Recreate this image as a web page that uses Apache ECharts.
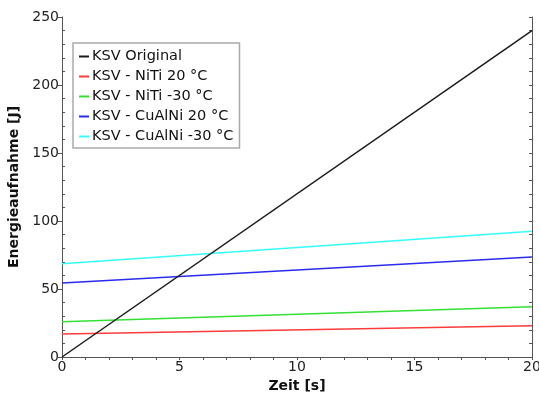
<!DOCTYPE html>
<html><head><meta charset="utf-8">
<script src="https://cdn.jsdelivr.net/npm/echarts@6/dist/echarts.min.js"></script>
<style>html,body{margin:0;padding:0;background:#fff}#c{width:539px;height:397px}</style>
</head><body><div id="c"></div>
<script>
var seriesNames = ['KSV Original','KSV - NiTi 20 °C','KSV - NiTi -30 °C','KSV - CuAlNi 20 °C','KSV - CuAlNi -30 °C'];
var timeX = [0, 20];
var original = [0, 240];
var nitiWarm = [17, 23];
var nitiCold = [26, 37];
var cualniWarm = [54.5, 73.5];
var cualniCold = [68.5, 92.5];
var colors = ['#1a1a1a','#ff3b3b','#33e033','#2b2bee','#33ffff'];
var xTicks = [0,5,10,15,20];
var yTicks = [0,50,100,150,200,250];

var vals = [original, nitiWarm, nitiCold, cualniWarm, cualniCold];
var font = 'DejaVu Sans';
function pts(v){ return timeX.map(function(x,i){return [x, v[i]];}); }
var chart = echarts.init(document.getElementById('c'));
var axLine = {show:true, lineStyle:{color:'#555', width:1}};
chart.setOption({
  animation:false,
  grid:{left:62, right:7, top:17, bottom:40, show:false, containLabel:false, outerBoundsMode:'none'},
  legend:{
    orient:'vertical', left:73, top:43,
    data: seriesNames.map(function(n,i){return {name:n, icon:'rect', itemStyle:{color:colors[i]}};}),
    itemWidth:10, itemHeight:2, itemGap:5,
    backgroundColor:'#fff', borderColor:'#aaa', borderWidth:1.5,
    padding:[6,6,4,6],
    textStyle:{fontFamily:font, fontSize:14.5, color:'#111', padding:[0,0,0,-2]}
  },
  xAxis:[
    {type:'value', min:xTicks[0], max:xTicks[xTicks.length-1], interval:5, position:'bottom',
     axisLine:axLine, axisTick:{show:true, length:3, lineStyle:{color:'#555'}},
     minorTick:{show:true, splitNumber:5, length:3, lineStyle:{color:'#555'}},
     splitLine:{show:false},
     axisLabel:{fontFamily:font, fontSize:14, color:'#222', margin:3},
     name:'Zeit [s]', nameLocation:'middle', nameGap:19,
     nameTextStyle:{fontFamily:font, fontSize:14, fontWeight:'bold', color:'#111'}},
    {type:'value', min:0, max:20, interval:5, position:'top',
     axisLine:axLine, axisTick:{show:true, inside:true, length:3, lineStyle:{color:'#555'}},
     minorTick:{show:true, splitNumber:5, length:3, lineStyle:{color:'#555'}},
     splitLine:{show:false}, axisLabel:{show:false}}
  ],
  yAxis:[
    {type:'value', min:yTicks[0], max:yTicks[yTicks.length-1], interval:50, position:'left',
     axisLine:axLine, axisTick:{show:true, length:4, lineStyle:{color:'#555'}},
     minorTick:{show:false},
     splitLine:{show:false},
     axisLabel:{fontFamily:font, fontSize:14, color:'#222', margin:3},
     name:'Energieaufnahme [J]', nameLocation:'middle', nameGap:30,
     nameTextStyle:{fontFamily:font, fontSize:14, fontWeight:'bold', color:'#111'}},
    {type:'value', min:0, max:250, interval:50, position:'left',
     axisLine:{show:false}, axisTick:{show:false, inside:true},
     minorTick:{show:true, splitNumber:5, length:3, lineStyle:{color:'#555'}},
     splitLine:{show:false}, axisLabel:{show:false}},
    {type:'value', min:0, max:250, interval:50, position:'right',
     axisLine:axLine, axisTick:{show:true, inside:true, length:3, lineStyle:{color:'#555'}},
     minorTick:{show:true, splitNumber:5, length:3, lineStyle:{color:'#555'}},
     splitLine:{show:false}, axisLabel:{show:false}}
  ],
  series: vals.map(function(v,i){
    return {name:seriesNames[i], type:'line', data:pts(v), showSymbol:false, symbol:'none',
      lineStyle:{color:colors[i], width:1.5}, itemStyle:{color:colors[i]}, z:10-i};
  })
});
</script></body></html>
